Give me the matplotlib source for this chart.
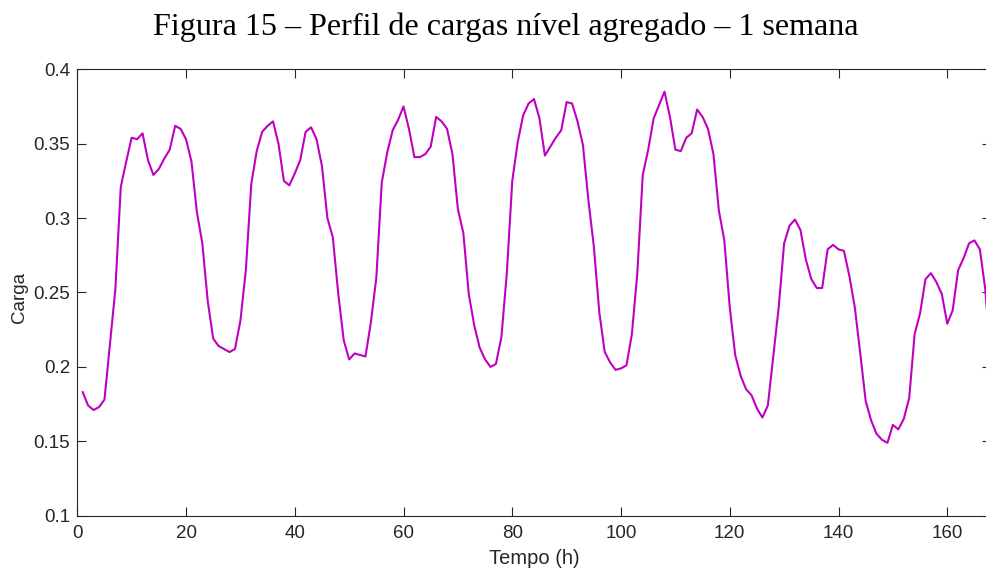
import matplotlib
matplotlib.use("Agg")
import matplotlib.pyplot as plt
import numpy as np

# carga agregada, valores horários ao longo de uma semana (1..168 h)
horas = np.arange(1, 169)
carga = [
    0.183, 0.174, 0.171, 0.173, 0.178, 0.215, 0.252, 0.321, 0.338, 0.354,
    0.353, 0.357, 0.339, 0.329, 0.333, 0.340, 0.346, 0.362, 0.360, 0.353,
    0.338, 0.304, 0.283, 0.244, 0.219, 0.214, 0.212, 0.210, 0.212, 0.231,
    0.265, 0.323, 0.345, 0.358, 0.362, 0.365, 0.350, 0.325, 0.322, 0.330,
    0.339, 0.358, 0.361, 0.353, 0.335, 0.300, 0.287, 0.249, 0.218, 0.205,
    0.209, 0.208, 0.207, 0.230, 0.260, 0.324, 0.344, 0.359, 0.366, 0.375,
    0.360, 0.341, 0.341, 0.343, 0.348, 0.368, 0.365, 0.360, 0.343, 0.306,
    0.290, 0.249, 0.228, 0.213, 0.205, 0.200, 0.202, 0.220, 0.263, 0.325,
    0.351, 0.369, 0.377, 0.380, 0.367, 0.342, 0.348, 0.354, 0.359, 0.378,
    0.377, 0.365, 0.349, 0.312, 0.281, 0.237, 0.210, 0.203, 0.198, 0.199,
    0.201, 0.222, 0.263, 0.329, 0.346, 0.367, 0.376, 0.385, 0.368, 0.346,
    0.345, 0.354, 0.357, 0.373, 0.368, 0.360, 0.343, 0.305, 0.285, 0.240,
    0.208, 0.194, 0.185, 0.181, 0.172, 0.166, 0.174, 0.207, 0.240, 0.283,
    0.295, 0.299, 0.292, 0.272, 0.259, 0.253, 0.253, 0.279, 0.282, 0.279,
    0.278, 0.261, 0.240, 0.209, 0.177, 0.164, 0.155, 0.151, 0.149, 0.161,
    0.158, 0.165, 0.179, 0.222, 0.236, 0.259, 0.263, 0.257, 0.249, 0.229,
    0.238, 0.265, 0.273, 0.283, 0.285, 0.279, 0.252, 0.205,
]

x_ticks = [0, 20, 40, 60, 80, 100, 120, 140, 160]
y_ticks = [0.1, 0.15, 0.2, 0.25, 0.3, 0.35, 0.4]
y_labels = ["0.1", "0.15", "0.2", "0.25", "0.3", "0.35", "0.4"]

plt.rcParams["font.family"] = ["Liberation Sans", "DejaVu Sans"]

fig = plt.figure(figsize=(9.87, 5.69), dpi=100)
ax = fig.add_axes([0.0783, 0.0937, 0.9255, 0.7845])

ax.plot(horas, carga, color="#C000C0", linewidth=1.5)

ax.set_xlim(0, 168)
ax.set_ylim(0.1, 0.4)
ax.set_xticks(x_ticks)
ax.set_yticks(y_ticks)
ax.set_yticklabels(y_labels)

ax.tick_params(direction="in", length=6.5, width=0.8, top=True, right=True,
               labelsize=13.5, colors="#262626")
ax.tick_params(axis="x", pad=7)
ax.tick_params(axis="y", pad=5)
for s in ax.spines.values():
    s.set_linewidth(0.8)
    s.set_color("#262626")
# o lado direito fica cortado na margem da figura
ax.spines["right"].set_visible(False)

ax.set_xlabel("Tempo (h)", fontsize=14.5, color="#262626", labelpad=4.5)
ax.set_ylabel("Carga", fontsize=13.5, color="#262626")
ax.yaxis.set_label_coords(-0.054, 0.49)

fig.text(0.512, 0.938, "Figura 15 \u2013 Perfil de cargas n\u00edvel agregado \u2013 1 semana",
         family="Liberation Serif", fontsize=23.1, ha="center", va="baseline")

fig.savefig("out.png", dpi=100)
